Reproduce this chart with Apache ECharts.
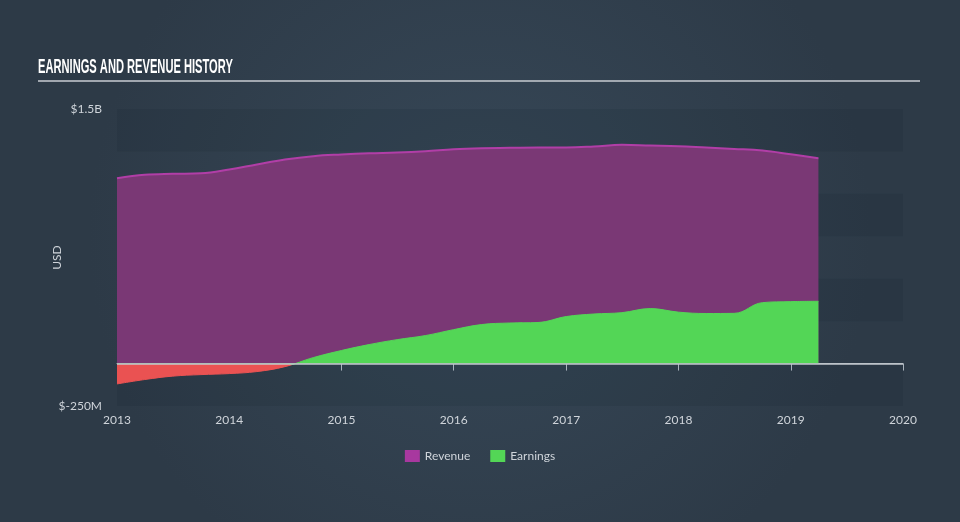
<!DOCTYPE html>
<html>
<head>
<meta charset="utf-8">
<script src="https://cdn.jsdelivr.net/npm/echarts@6/dist/echarts.min.js"></script>
<style>
html,body{margin:0;padding:0;background:#344352;}
#c{width:960px;height:522px;}
</style>
</head>
<body>
<div id="c"></div>
<script>
// Quarterly dates (x), values in millions USD
var dates = ['2013-01-01','2013-04-01','2013-07-01','2013-10-01',
             '2014-01-01','2014-04-01','2014-07-01','2014-10-01',
             '2015-01-01','2015-04-01','2015-07-01','2015-10-01',
             '2016-01-01','2016-04-01','2016-07-01','2016-10-01',
             '2017-01-01','2017-04-01','2017-07-01','2017-10-01',
             '2018-01-01','2018-04-01','2018-07-01','2018-10-01',
             '2019-01-01','2019-04-01'];
var revenue = [1092,1112,1118,1121,1143,1173,1202,1222,1232,1239,1243,1251,1263,1269,1271,1273,1273,1279,1289,1285,1281,1273,1265,1255,1233,1210];
var earnings = [-120,-94,-74,-65,-59,-47,-18,35,77,112,141,165,200,230,239,242,277,292,300,324,303,295,296,359,365,367];
var yTickLabels = {'1500':'$1.5B','-250':'$-250M'};
var xMin = '2013-01-01', xMax = '2020-01-01';

function pairs(vals){ return dates.map(function(d,i){ return [d, vals[i]]; }); }

// gradient switching from green (>=0) to red (<0) at the zero level of the earnings shape
var eMax = Math.max.apply(null, earnings), eMin = Math.min.apply(null, earnings);
var zeroOff = eMax / (eMax - eMin);
function earnGrad(){
  return {type:'linear', x:0, y:0, x2:0, y2:1, colorStops:[
    {offset:0, color:'#53d656'},{offset:zeroOff, color:'#53d656'},
    {offset:zeroOff, color:'#ea5252'},{offset:1, color:'#ea5252'}]};
}

var chart = echarts.init(document.getElementById('c'));
var labelColor = '#cfd4da';
var font = 'Lato, "Open Sans", sans-serif';
chart.setOption({
  backgroundColor: {
    type:'radial', x:0.5, y:0.45, r:0.75,
    colorStops:[{offset:0,color:'#374858'},{offset:1,color:'#2d3a47'}]
  },
  animation:false,
  graphic:[{
    type:'text', x:38, y:57, scaleX:0.53, silent:true,
    style:{text:'EARNINGS AND REVENUE HISTORY', fill:'#ffffff',
      font:'bold 21px "Liberation Sans", Arial, sans-serif'}
  },{
    type:'line', shape:{x1:38,y1:81,x2:920,y2:81},
    style:{stroke:'#c9cdd2', lineWidth:1.5}, silent:true
  }],
  legend:{
    top:445, left:'center', itemWidth:15, itemHeight:12, itemGap:20,
    icon:'rect',
    textStyle:{color:labelColor, fontSize:12, fontFamily:font},
    data:[{name:'Revenue', itemStyle:{color:'#a8389f'}},{name:'Earnings', itemStyle:{color:'#53d656'}}]
  },
  grid:{left:117, right:57, top:109, bottom:116},
  xAxis:{
    type:'time', min:xMin, max:xMax, splitNumber:7,
    minInterval: 365*24*3600*1000,
    axisLine:{show:true, lineStyle:{color:'#a9b3bd', width:1}},
    axisTick:{show:true, length:7, lineStyle:{color:'#a9b3bd'}},
    splitLine:{show:false},
    axisLabel:{color:labelColor, fontSize:12, fontFamily:font, margin:8, formatter:'{yyyy}', showMinLabel:true, showMaxLabel:true}
  },
  yAxis:{
    type:'value', min:-250, max:1500, interval:250,
    name:'USD', nameLocation:'middle', nameGap:54, nameMoveOverlap:false,
    nameTextStyle:{color:labelColor, fontSize:12, fontFamily:font},
    axisLine:{show:false}, axisTick:{show:false},
    splitLine:{show:false},
    splitArea:{show:true, areaStyle:{color:['rgba(20,30,42,0.12)','rgba(0,0,0,0)']}},
    axisLabel:{color:labelColor, fontSize:12, fontFamily:font, margin:15,
      formatter:function(v){ return yTickLabels[String(v)] || ''; }}
  },
  series:[
    {
      name:'Revenue', type:'line', data:pairs(revenue), smooth:0.4, showSymbol:false,
      itemStyle:{color:'#a8389f'},
      lineStyle:{color:'#b13ea7', width:2},
      areaStyle:{color:'#7a3875', opacity:1, origin:0},
      z:2
    },
    {
      name:'Earnings', type:'line', data:pairs(earnings), smooth:0.4, showSymbol:false,
      itemStyle:{color:'#53d656'},
      lineStyle:{width:1, color:earnGrad()},
      areaStyle:{opacity:1, origin:0, color:earnGrad()},
      z:3
    },
    {
      name:'zero', type:'line', data:[], silent:true,
      markLine:{silent:true, symbol:'none', label:{show:false},
        lineStyle:{color:'#c3c8ce', type:'solid', width:1.5},
        data:[{yAxis:0}]},
      z:4
    }
  ]
});
</script>
</body>
</html>
